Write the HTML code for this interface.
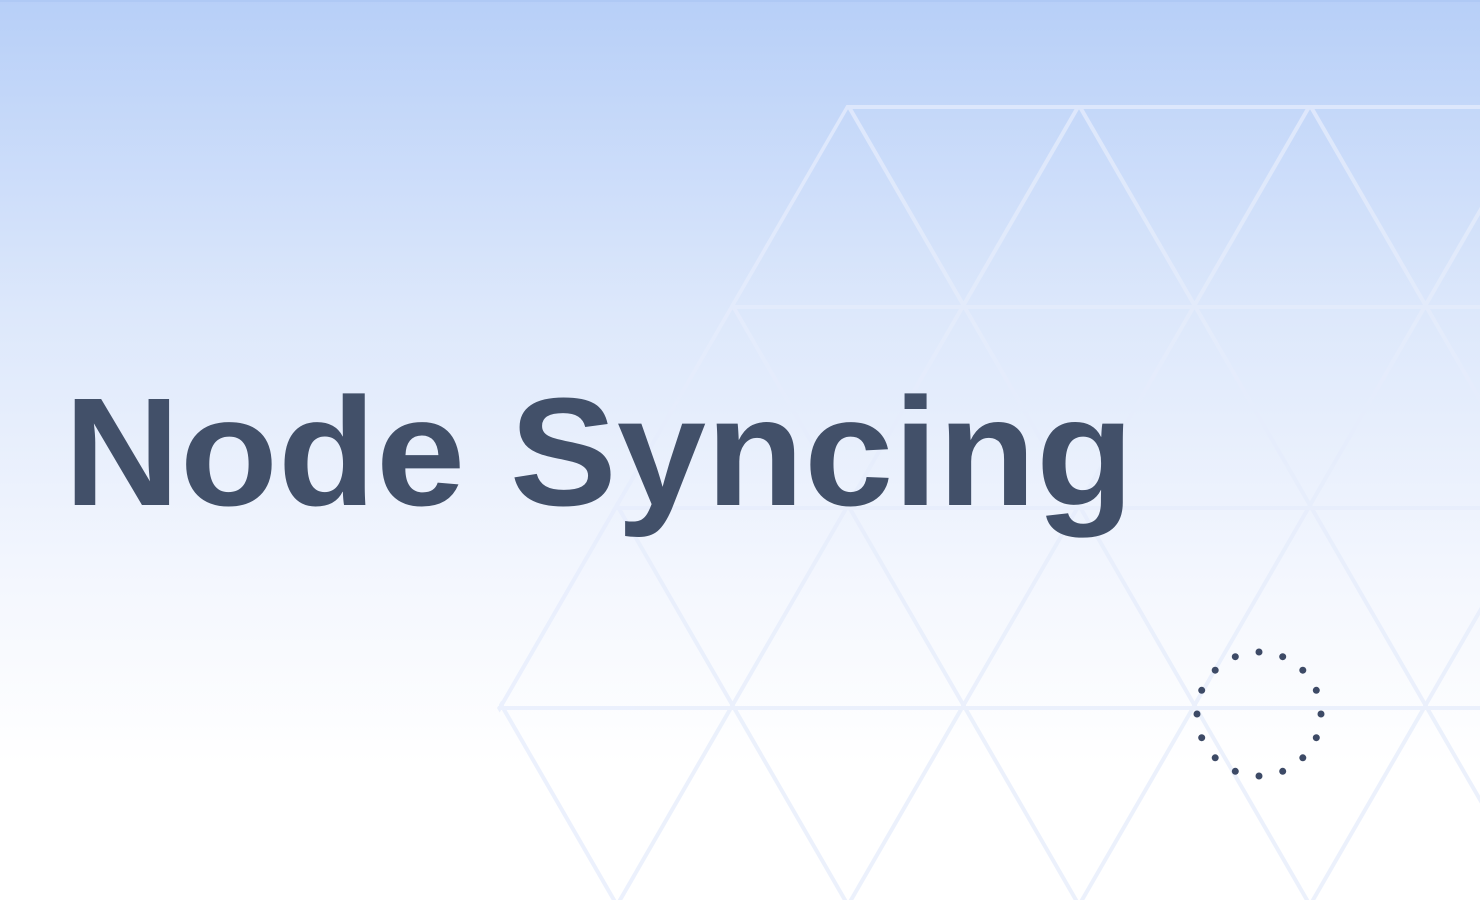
<!DOCTYPE html>
<html><head><meta charset="utf-8"><style>
html,body{margin:0;padding:0;width:1480px;height:900px;overflow:hidden}
</style></head><body>
<svg width="1480" height="900" xmlns="http://www.w3.org/2000/svg">
<defs>
<linearGradient id="bg" x1="0" y1="0" x2="0" y2="1">
<stop offset="0" stop-color="#b7cff8"/>
<stop offset="0.35" stop-color="#dde8fb"/>
<stop offset="0.65" stop-color="#f4f7fe"/>
<stop offset="0.85" stop-color="#ffffff"/>
<stop offset="1" stop-color="#ffffff"/>
</linearGradient>
<clipPath id="cp"><polygon points="847,104 1480,104 1480,900 614,910 497,708"/></clipPath>
</defs>
<rect width="1480" height="900" fill="url(#bg)"/>
<rect width="1480" height="2" fill="#aac4f4" opacity="0.6"/>
<g clip-path="url(#cp)" stroke="#e6edfc" stroke-width="4" fill="none" opacity="0.75">
<line x1="0" y1="107" x2="1480" y2="107"/>
<line x1="0" y1="307" x2="1480" y2="307"/>
<line x1="0" y1="508" x2="1480" y2="508"/>
<line x1="0" y1="708" x2="1480" y2="708"/>
<line x1="-537" y1="107" x2="-64" y2="926"/>
<line x1="-306" y1="107" x2="167" y2="926"/>
<line x1="-75" y1="107" x2="398" y2="926"/>
<line x1="156" y1="107" x2="629" y2="926"/>
<line x1="387" y1="107" x2="860" y2="926"/>
<line x1="618" y1="107" x2="1091" y2="926"/>
<line x1="849" y1="107" x2="1322" y2="926"/>
<line x1="1080" y1="107" x2="1553" y2="926"/>
<line x1="1311" y1="107" x2="1784" y2="926"/>
<line x1="1542" y1="107" x2="2015" y2="926"/>
<line x1="847" y1="107" x2="374" y2="926"/>
<line x1="1078" y1="107" x2="605" y2="926"/>
<line x1="1309" y1="107" x2="836" y2="926"/>
<line x1="1540" y1="107" x2="1067" y2="926"/>
<line x1="1771" y1="107" x2="1298" y2="926"/>
<line x1="2002" y1="107" x2="1529" y2="926"/>
<line x1="2233" y1="107" x2="1760" y2="926"/>
</g>
<text x="64" y="505" font-family="Liberation Sans, sans-serif" font-weight="bold" font-size="154" fill="#425069" textLength="1070" lengthAdjust="spacingAndGlyphs">Node Syncing</text>
<g fill="#3d4a66">
<circle cx="1321" cy="714" r="3.5"/>
<circle cx="1316.3" cy="737.7" r="3.5"/>
<circle cx="1302.8" cy="757.8" r="3.5"/>
<circle cx="1282.7" cy="771.3" r="3.5"/>
<circle cx="1259" cy="776" r="3.5"/>
<circle cx="1235.3" cy="771.3" r="3.5"/>
<circle cx="1215.2" cy="757.8" r="3.5"/>
<circle cx="1201.7" cy="737.7" r="3.5"/>
<circle cx="1197" cy="714" r="3.5"/>
<circle cx="1201.7" cy="690.3" r="3.5"/>
<circle cx="1215.2" cy="670.2" r="3.5"/>
<circle cx="1235.3" cy="656.7" r="3.5"/>
<circle cx="1259" cy="652" r="3.5"/>
<circle cx="1282.7" cy="656.7" r="3.5"/>
<circle cx="1302.8" cy="670.2" r="3.5"/>
<circle cx="1316.3" cy="690.3" r="3.5"/>
</g>
</svg>
</body></html>
